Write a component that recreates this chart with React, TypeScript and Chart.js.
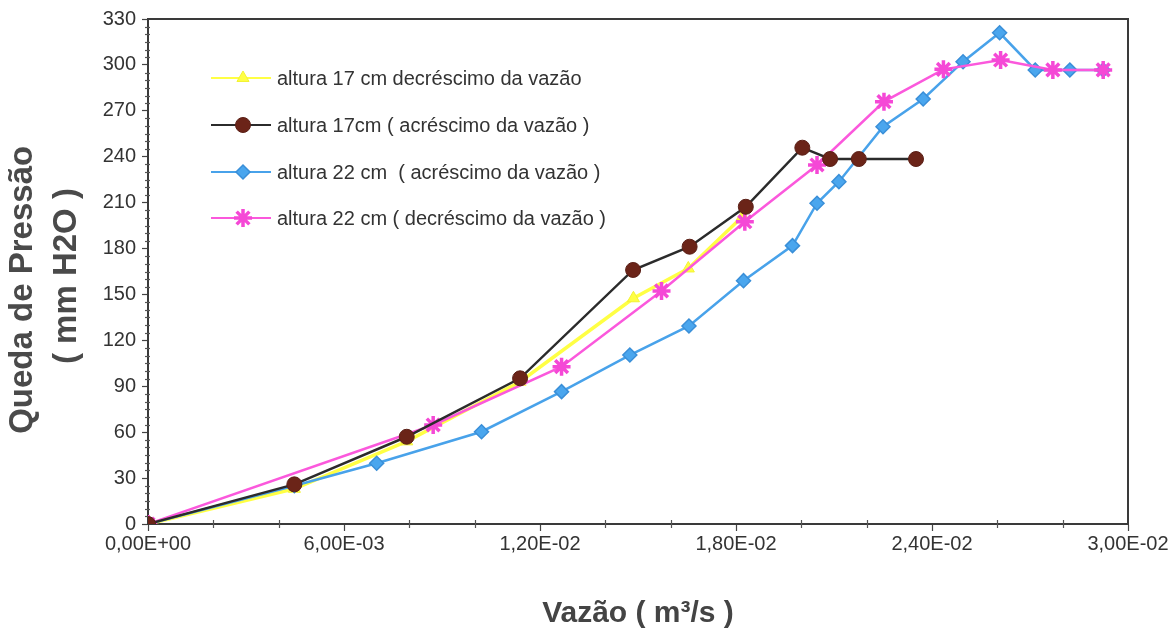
import React, { useEffect, useRef } from 'react';
import { Chart, registerables } from 'chart.js';
import { drawPoint } from 'chart.js/helpers';

Chart.register(...registerables);

const seriesNames = [
  'altura 17 cm decréscimo da vazão',
  'altura 17cm ( acréscimo da vazão )',
  'altura 22 cm  ( acréscimo da vazão )',
  'altura 22 cm ( decréscimo da vazão )',
];

// altura 17 cm decréscimo
const yellowX = [0, 0.00448, 0.00792, 0.01139, 0.01486, 0.01654, 0.0182];
const yellowY = [0, 23, 54, 93, 147.5, 167, 201];

// altura 17 cm acréscimo
const brownX = [0, 0.00448, 0.00792, 0.01139, 0.01485, 0.01658, 0.0183, 0.02003, 0.02088, 0.02176, 0.02351];
const brownY = [0, 25.9, 57, 95.2, 166, 181.2, 207.3, 245.9, 238.5, 238.5, 238.5];

// altura 22 cm acréscimo
const blueX = [0, 0.00448, 0.007, 0.01021, 0.01266, 0.01475, 0.01656, 0.01823, 0.01973, 0.02048, 0.02115, 0.0225, 0.02373, 0.02495, 0.02607, 0.02716, 0.02822, 0.02924];
const blueY = [0, 25, 39.7, 60.3, 86.5, 110.4, 129.4, 159, 181.9, 209.6, 223.7, 259.6, 277.7, 302.1, 321, 296.7, 296.7, 296.7];

// altura 22 cm decréscimo
const pinkX = [0, 0.00873, 0.01266, 0.01572, 0.01827, 0.02048, 0.02253, 0.02435, 0.0261, 0.0277, 0.02924];
const pinkY = [0, 64.7, 102.8, 152.3, 197.5, 234.6, 276, 297.1, 303.2, 296.7, 296.7];

const xTickValues = [0, 0.006, 0.012, 0.018, 0.024, 0.03];
const yTickValues = [0, 30, 60, 90, 120, 150, 180, 210, 240, 270, 300, 330];
const xMinorTicks = [0.002, 0.004, 0.008, 0.01, 0.014, 0.016, 0.02, 0.022, 0.026, 0.028];
const yMinorStep = 5;

const FONT = '"Liberation Sans", Arial, sans-serif';

function fmtExp(v: number): string {
  const s = Number(v).toExponential(2);
  const [m, e] = s.split('e');
  const ev = parseInt(e, 10);
  const sign = ev < 0 ? '-' : '+';
  return m.replace('.', ',') + 'E' + sign + String(Math.abs(ev)).padStart(2, '0');
}

function pts(xs: number[], ys: number[]) {
  return xs.map((x, i) => ({ x, y: ys[i] }));
}

const decorPlugin = {
  id: 'decor',
  beforeDatasetsDraw(chart: any) {
    const { ctx, chartArea: a, scales } = chart;
    ctx.save();
    ctx.strokeStyle = '#3a3a3a';
    ctx.lineWidth = 2;
    ctx.strokeRect(a.left, a.top, a.right - a.left, a.bottom - a.top);
    ctx.lineWidth = 1.2;
    ctx.strokeStyle = '#555';
    for (let v = yMinorStep; v < 330; v += yMinorStep) {
      if (v % 30 === 0) continue;
      const y = Math.round(scales.y.getPixelForValue(v)) + 0.5;
      ctx.beginPath();
      ctx.moveTo(a.left - 3, y);
      ctx.lineTo(a.left + 2, y);
      ctx.stroke();
    }
    xMinorTicks.forEach((v) => {
      const x = Math.round(scales.x.getPixelForValue(v)) + 0.5;
      ctx.beginPath();
      ctx.moveTo(x, a.bottom - 4);
      ctx.lineTo(x, a.bottom + 4);
      ctx.stroke();
    });
    ctx.restore();
  },
  afterDraw(chart: any) {
    const { ctx } = chart;
    ctx.save();
    const rowY = [78, 125, 172, 218];
    chart.data.datasets.forEach((ds: any, i: number) => {
      const y = rowY[i];
      ctx.strokeStyle = ds.borderColor;
      ctx.lineWidth = 2;
      ctx.beginPath();
      ctx.moveTo(211, y);
      ctx.lineTo(271, y);
      ctx.stroke();
      ctx.fillStyle = ds.pointBackgroundColor;
      ctx.strokeStyle = ds.pointBorderColor;
      ctx.lineWidth = ds.pointBorderWidth;
      drawPoint(ctx, {
        pointStyle: ds.pointStyle,
        radius: ds.pointRadius,
        borderWidth: ds.pointBorderWidth,
        rotation: 0,
      } as any, 243, y);
      ctx.fillStyle = '#333';
      ctx.font = `20px ${FONT}`;
      ctx.textBaseline = 'middle';
      ctx.textAlign = 'left';
      ctx.fillText(ds.label, 277, y + 1);
    });
    ctx.restore();
  },
};

export default function App() {
  const ref = useRef<HTMLCanvasElement | null>(null);

  useEffect(() => {
    if (!ref.current) return;
    const chart = new Chart(ref.current, {
      type: 'line',
      data: {
        datasets: [
          {
            label: seriesNames[0],
            data: pts(yellowX, yellowY),
            borderColor: '#ffff44',
            borderWidth: 3.5,
            pointStyle: 'triangle',
            pointRadius: 7,
            pointBackgroundColor: '#ffff44',
            pointBorderColor: '#f2f235',
            pointBorderWidth: 1,
            order: 4,
          },
          {
            label: seriesNames[1],
            data: pts(brownX, brownY),
            borderColor: '#2b2b2b',
            borderWidth: 2.5,
            pointStyle: 'circle',
            pointRadius: 7.5,
            pointBackgroundColor: '#6b2418',
            pointBorderColor: '#5a1f16',
            pointBorderWidth: 1,
            order: 1,
          },
          {
            label: seriesNames[2],
            data: pts(blueX, blueY),
            borderColor: '#48a2ea',
            borderWidth: 2.5,
            pointStyle: 'rectRot',
            pointRadius: 7,
            pointBackgroundColor: '#4aa6ee',
            pointBorderColor: '#3a8fd8',
            pointBorderWidth: 1.5,
            order: 3,
          },
          {
            label: seriesNames[3],
            data: pts(pinkX, pinkY),
            borderColor: '#fb58dc',
            borderWidth: 2.5,
            pointStyle: 'star',
            pointRadius: 9,
            pointBackgroundColor: '#fb58dc',
            pointBorderColor: '#f548d6',
            pointBorderWidth: 3.5,
            order: 2,
          },
        ],
      } as any,
      options: {
        animation: false,
        responsive: false,
        maintainAspectRatio: false,
        devicePixelRatio: 1,
        layout: { padding: { top: 19, right: 47, left: 0, bottom: 0 } },
        plugins: { legend: { display: false }, tooltip: { enabled: false } },
        scales: {
          x: {
            type: 'linear',
            min: 0,
            max: 0.03,
            afterBuildTicks: (s: any) => {
              s.ticks = xTickValues.map((v) => ({ value: v }));
            },
            afterFit: (s: any) => {
              s.height = 108;
            },
            grid: { display: true, drawOnChartArea: false, drawTicks: true, tickLength: 7, tickColor: '#444', tickWidth: 1.2 },
            border: { display: true, color: '#3a3a3a', width: 2 },
            ticks: {
              color: '#333',
              font: { family: FONT, size: 20 },
              padding: 1,
              maxRotation: 0,
              autoSkip: false,
              callback: (v: any) => fmtExp(Number(v)),
            },
            title: {
              display: true,
              text: 'Vazão ( m³/s )',
              color: '#444',
              font: { family: FONT, size: 30, weight: 'bold', lineHeight: 1.2 },
              padding: { top: 0, bottom: 0 },
            },
          },
          y: {
            type: 'linear',
            min: 0,
            max: 330,
            afterBuildTicks: (s: any) => {
              s.ticks = yTickValues.map((v) => ({ value: v }));
            },
            afterFit: (s: any) => {
              s.width = 148;
            },
            grid: { display: true, drawOnChartArea: false, drawTicks: true, tickLength: 6, tickColor: '#444', tickWidth: 1.2 },
            border: { display: true, color: '#3a3a3a', width: 2 },
            ticks: {
              color: '#333',
              font: { family: FONT, size: 20 },
              padding: 6,
            },
            title: {
              display: true,
              text: ['Queda de Pressão    ', '( mm H2O ) '],
              color: '#4a4a4a',
              font: { family: FONT, size: 33, weight: 'bold', lineHeight: 1.34 },
              padding: { top: 1, bottom: 0 },
            },
          },
        },
      } as any,
      plugins: [decorPlugin],
    });
    return () => chart.destroy();
  }, []);

  return (
    <div style={{ position: 'absolute', left: 0, top: 0, width: 1175, height: 632, background: '#fff' }}>
      <canvas ref={ref} width={1175} height={632} style={{ display: 'block', width: 1175, height: 632 }} />
    </div>
  );
}
